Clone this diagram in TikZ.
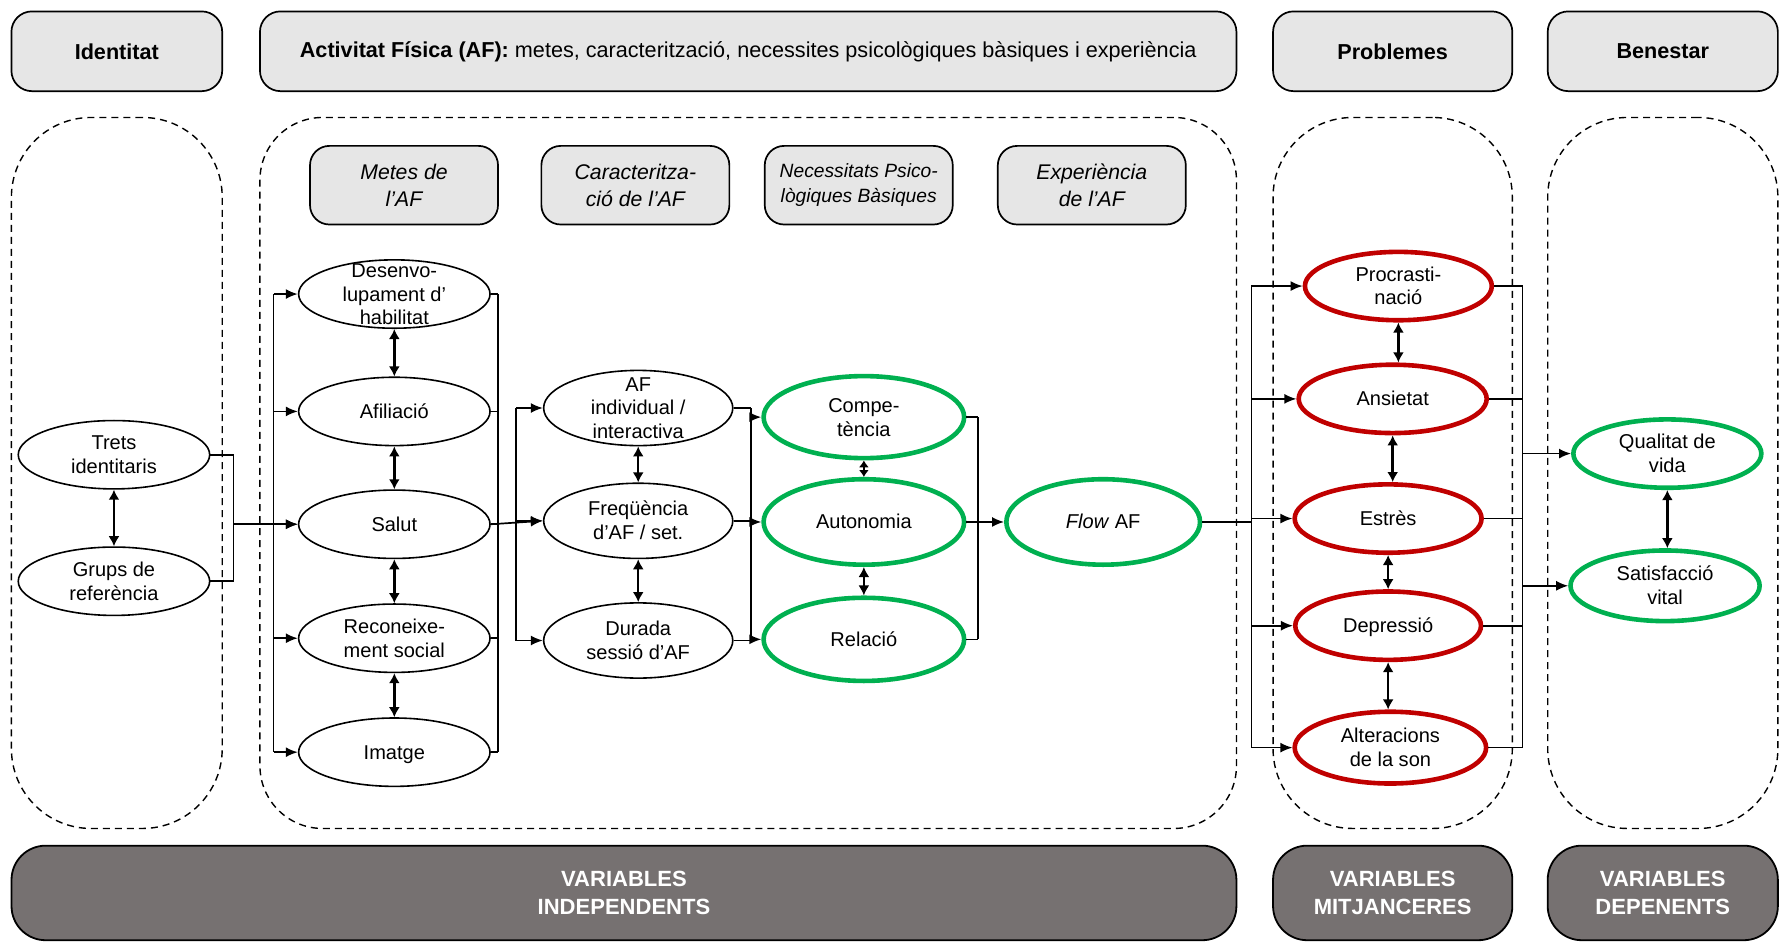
\documentclass[tikz,border=0pt]{standalone}
\usepackage{fontspec}
\setmainfont{Liberation Sans}
\usetikzlibrary{shapes.geometric,arrows.meta,calc}
\definecolor{hdrgray}{HTML}{E6E6E6}
\definecolor{botgray}{HTML}{767171}
\definecolor{okgreen}{HTML}{00B050}
\definecolor{badred}{HTML}{C00000}
\newcommand\tx[1]{\smash{\raisebox{-3.6pt}{\makebox[0pt]{\begin{tabular}{@{}c@{}}#1\end{tabular}}}}}
\tikzset{
  hdr/.style={draw, fill=hdrgray, rounded corners=0.36cm, line width=0.85pt, minimum height=1.4cm, inner sep=0pt, font=\fontsize{10.8}{13}\selectfont\bfseries},
  sub/.style={draw, fill=hdrgray, rounded corners=0.34cm, line width=0.85pt, minimum width=3.3cm, minimum height=1.38cm, inner sep=0pt, align=center, font=\fontsize{10.6}{13.6}\selectfont\itshape},
  zone/.style={draw, line width=0.7pt, dash pattern=on 3.5pt off 2.5pt, minimum height=12.48cm, inner sep=0pt},
  bot/.style={draw=black, fill=botgray, rounded corners=0.6cm, line width=0.9pt, text=white, minimum height=1.66cm, inner sep=0pt, align=center, font=\fontsize{11}{14}\selectfont\bfseries},
  var/.style={draw, ellipse, line width=0.8pt, inner sep=0pt, minimum width=3.36cm, minimum height=1.2cm, font=\fontsize{10}{11.9}\selectfont},
  grn/.style={var, draw=okgreen, line width=2.3pt},
  prob/.style={var, draw=badred, line width=2.3pt},
  plain/.style={line width=0.85pt},
  link/.style={line width=0.85pt, -{Latex[length=6pt,width=5pt]}},
  dbl/.style={line width=1.2pt, {Latex[length=5pt,width=5.5pt]}-{Latex[length=5pt,width=5.5pt]}},
  dblsmall/.style={line width=1.2pt, {Latex[length=3.4pt,width=5pt]}-{Latex[length=3.4pt,width=5pt]}}
}
\begin{document}
\begin{tikzpicture}[x=0.02cm, y=-0.02cm]
\useasboundingbox (0,0) rectangle (1568,835);

% headers
\node[hdr, minimum width=3.7cm] (hId) at (102.5,45) {Identitat};
\node[hdr, minimum width=17.14cm] (hAF) at (656.5,45) {Activitat Física (AF): \mdseries metes, caracterització, necessites psicològiques bàsiques i experiència};
\node[hdr, minimum width=4.2cm] (hPr) at (1222,45) {Problemes};
\node[hdr, minimum width=4.04cm] (hBe) at (1459,45) {Benestar};

% dashed zones
\node[zone, rounded corners=1.4cm, minimum width=3.7cm] (zId) at (102.5,415) {};
\node[zone, rounded corners=1.1cm, minimum width=17.14cm] (zAF) at (656.5,415) {};
\node[zone, rounded corners=1.4cm, minimum width=4.2cm] (zPr) at (1222,415) {};
\node[zone, rounded corners=1.4cm, minimum width=4.04cm] (zBe) at (1459,415) {};

% bottom boxes
\node[bot, minimum width=21.5cm] (bInd) at (547.5,783.5) {VARIABLES\\INDEPENDENTS};
\node[bot, minimum width=4.2cm] (bMit) at (1222,783.5) {VARIABLES\\MITJANCERES};
\node[bot, minimum width=4.04cm] (bDep) at (1459,783.5) {VARIABLES\\DEPENENTS};

% sub headers
\node[sub] (sMet) at (354.5,162.5) {Metes de\\l'AF};
\node[sub] (sCar) at (557.5,162.5) {Caracteritza-\\ció de l'AF};
\node[sub, font=\fontsize{9.6}{12.6}\selectfont\itshape] (sNec) at (753.5,162.5) {Necessitats Psico-\\lògiques Bàsiques};
\node[sub] (sExp) at (958,162.5) {Experiència\\de l'AF};

% identity
\node[var] (trets) at (100,399) {\tx{Trets\\identitaris}};
\node[var] (grups) at (100,510) {\tx{Grups de\\referència}};

% metes
\node[var] (desen) at (346,258) {\tx{Desenvo-\\lupament d'\\habilitat}};
\node[var] (afil) at (346,361) {\tx{Afiliació}};
\node[var] (salut) at (346,460) {\tx{Salut}};
\node[var] (recon) at (346,560) {\tx{Reconeixe-\\ment social}};
\node[var] (imatge) at (346,660) {\tx{Imatge}};

% caracteritzacio
\node[var, minimum width=3.32cm, minimum height=1.32cm] (afind) at (560,358) {\tx{AF\\individual /\\interactiva}};
\node[var, minimum width=3.32cm, minimum height=1.32cm] (freq) at (560,457) {\tx{Freqüència\\d'AF / set.}};
\node[var, minimum width=3.32cm, minimum height=1.32cm] (durada) at (560,562) {\tx{Durada\\sessió d'AF}};

% necessitats
\node[grn, minimum width=3.52cm, minimum height=1.44cm] (comp) at (758,366) {\tx{Compe-\\tència}};
\node[grn, minimum width=3.52cm, minimum height=1.5cm] (auton) at (758,458) {\tx{Autonomia}};
\node[grn, minimum width=3.52cm, minimum height=1.46cm] (rel) at (758,561) {\tx{Relació}};

% flow
\node[grn, minimum width=3.4cm, minimum height=1.5cm] (flow) at (968,458) {\tx{\textit{Flow} AF}};

% problems
\node[prob, minimum width=3.28cm] (procr) at (1227,251) {\tx{Procrasti-\\nació}};
\node[prob, minimum width=3.3cm] (ansiet) at (1222,350) {\tx{Ansietat}};
\node[prob, minimum width=3.28cm] (estres) at (1218,455) {\tx{Estrès}};
\node[prob, minimum width=3.26cm] (depres) at (1218,549) {\tx{Depressió}};
\node[prob, minimum width=3.36cm, minimum height=1.26cm] (alter) at (1220,656) {\tx{Alteracions\\de la son}};

% wellbeing
\node[grn, minimum width=3.3cm] (qual) at (1463,398) {\tx{Qualitat de\\vida}};
\node[grn, minimum width=3.32cm, minimum height=1.24cm] (satis) at (1461,514) {\tx{Satisfacció\\vital}};

% bracket coordinates
\coordinate (idx) at (205,0);
\coordinate (mL) at (240,0);
\coordinate (mR) at (437,0);
\coordinate (cL) at (453,0);
\coordinate (cR) at (659,0);
\coordinate (nR) at (858,0);
\coordinate (pL) at (1098,0);
\coordinate (pR) at (1336,0);

% identity bracket
\draw[plain] (trets.east) -- (trets.east -| idx) -- (grups.east -| idx) -- (grups.east);
\draw[link] (salut.west -| idx) -- (salut.west);

% metes brackets
\draw[plain] (desen.west -| mL) -- (imatge.west -| mL);
\foreach \n in {desen,afil,salut,recon,imatge} \draw[link] (\n.west -| mL) -- (\n.west);
\draw[plain] (desen.east -| mR) -- (imatge.east -| mR);
\foreach \n in {desen,afil,salut,recon,imatge} \draw[plain] (\n.east) -- (\n.east -| mR);
\draw[link] (salut.east) -- (freq.west);

% caracteritzacio brackets
\draw[plain] (afind.west -| cL) -- (durada.west -| cL);
\foreach \n in {afind,freq,durada} \draw[link] (\n.west -| cL) -- (\n.west);
\draw[plain] (afind.east -| cR) -- (durada.east -| cR);
\foreach \n in {afind,freq,durada} \draw[plain] (\n.east) -- (\n.east -| cR);
\foreach \n in {comp,auton,rel} \draw[link] (\n.west -| cR) -- (\n.west);

% necessitats bracket
\draw[plain] (comp.east -| nR) -- (rel.east -| nR);
\foreach \n in {comp,auton,rel} \draw[plain] (\n.east) -- (\n.east -| nR);
\draw[link] (auton.east -| nR) -- (flow.west);

% flow to problems
\draw[plain] (flow.east) -- (flow.east -| pL);
\draw[plain] (procr.west -| pL) -- (alter.west -| pL);
\foreach \n in {procr,ansiet,estres,depres,alter} \draw[link] (\n.west -| pL) -- (\n.west);

% problems to wellbeing
\draw[plain] (procr.east -| pR) -- (alter.east -| pR);
\foreach \n in {procr,ansiet,estres,depres,alter} \draw[plain] (\n.east) -- (\n.east -| pR);
\draw[link] (qual.west -| pR) -- (qual.west);
\draw[link] (satis.west -| pR) -- (satis.west);

% double arrows
\draw[dbl] (trets.south) -- (grups.north);
\draw[dbl] (desen.south) -- (afil.north);
\draw[dbl] (afil.south) -- (salut.north);
\draw[dbl] (salut.south) -- (recon.north);
\draw[dbl] (recon.south) -- (imatge.north);
\draw[dbl] (afind.south) -- (freq.north);
\draw[dbl] (freq.south) -- (durada.north);
\draw[dblsmall] (comp.south) -- (auton.north);
\draw[dbl] (auton.south) -- (rel.north);
\draw[dbl] (ansiet.north -| procr.south) -- (procr.south);
\draw[dbl] (ansiet.south) -- (ansiet.south |- estres.north);
\draw[dbl] (estres.south) -- (depres.north);
\draw[dbl] (depres.south) -- (depres.south |- alter.north);
\draw[dbl] (qual.south) -- (qual.south |- satis.north);
\end{tikzpicture}
\end{document}
